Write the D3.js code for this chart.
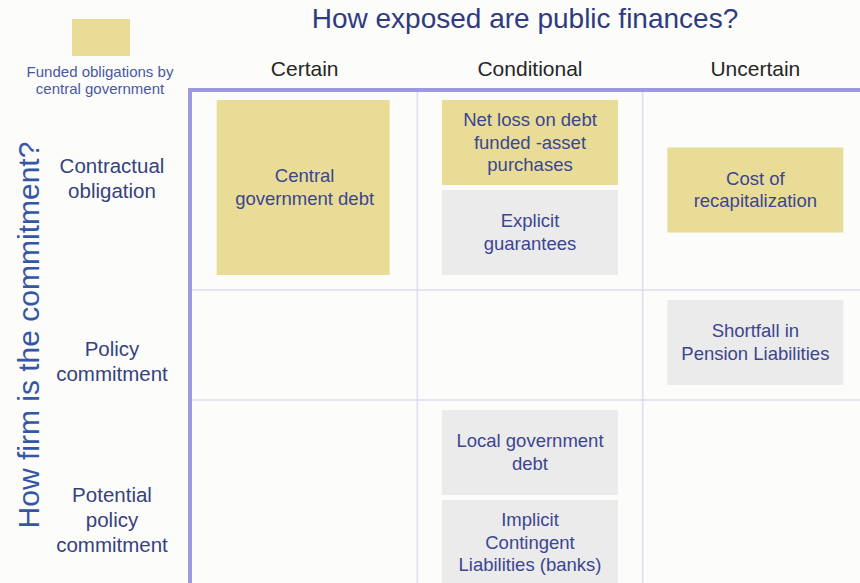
<!DOCTYPE html>
<meta charset="utf-8">
<style>
body { margin: 0; background: #fcfcfa; }
svg { display: block; font-family: "Liberation Sans", Arial, sans-serif; }
.frame { stroke: #9c99de; stroke-width: 4; fill: none; }
.grid { stroke: #dcdcef; stroke-width: 1.5; }
.box-text { fill: #3b4690; font-size: 18.5px; text-anchor: middle; }
.row-label { fill: #36427e; font-size: 20.5px; text-anchor: middle; }
.col-label { fill: #262626; font-size: 21px; text-anchor: middle; }
</style>
<body>
<div id="chart"></div>
<script src="https://d3js.org/d3.v7.min.js"></script>
<script>

var width = 860,
    height = 583;

// exposure (columns) and firmness (rows)
var columns = ["Certain", "Conditional", "Uncertain"];
var rows = ["Contractual obligation", "Policy commitment", "Potential policy commitment"];
var rowLabelLines = [["Contractual", "obligation"], ["Policy", "commitment"], ["Potential", "policy", "commitment"]];
var rowLabelShift = [-12, 16, 20]; // labels are not centred in their rows

// items in the matrix: column, row, slot in the cell stack, slots spanned, funded?
var itemNames = ["Central government debt", "Net loss on debt funded -asset purchases", "Explicit guarantees",
                 "Cost of recapitalization", "Shortfall in Pension Liabilities", "Local government debt",
                 "Implicit Contingent Liabilities (banks)"];
var itemLines = [["Central", "government debt"], ["Net loss on debt", "funded -asset", "purchases"], ["Explicit", "guarantees"],
                 ["Cost of", "recapitalization"], ["Shortfall in", "Pension Liabilities"], ["Local government", "debt"],
                 ["Implicit", "Contingent", "Liabilities (banks)"]];
var itemColumn = ["Certain", "Conditional", "Conditional", "Uncertain", "Uncertain", "Conditional", "Conditional"];
var itemRow = ["Contractual obligation", "Contractual obligation", "Contractual obligation", "Contractual obligation",
               "Policy commitment", "Potential policy commitment", "Potential policy commitment"];
var itemSlot = [0, 0, 1, null, 0, 0, 1];
var itemSpan = [2, 1, 1, 1, 1, 1, 1];
var itemFunded = [true, true, false, true, false, false, false];

var items = itemNames.map(function(n, i) {
  return { name: n, lines: itemLines[i], col: itemColumn[i], row: itemRow[i],
           slot: itemSlot[i], span: itemSpan[i], funded: itemFunded[i] };
});

var gridLeft = 190, gridTop = 90;
var slotH = 90, boxH = 85, rowPad = 10, boxW = 176;
var lineH = 22.5;

// slots needed per row = tallest stack in it
var rowSlots = rows.map(function(r) {
  return d3.max(items.filter(function(d) { return d.row == r; }), function(d) { return (d.slot || 0) + d.span; });
});
var rowStart = [gridTop];
rowSlots.forEach(function(s, i) { rowStart.push(rowStart[i] + s * slotH + 2 * rowPad); });
var y = d3.scaleOrdinal().domain(rows).range(rowStart.slice(0, rows.length));
function rowHeight(r) { return rowSlots[rows.indexOf(r)] * slotH + 2 * rowPad; }

var x = d3.scaleBand()
    .domain(columns)
    .range([192, 868]);

var fill = d3.scaleOrdinal().domain([true, false]).range(["#e9dc97", "#ebebeb"]);

var svg = d3.select("#chart").append("svg")
    .attr("width", width)
    .attr("height", height);

// grid lines
svg.selectAll(".vline")
    .data(columns.slice(1))
  .enter().append("line")
    .attr("class", "grid")
    .attr("x1", function(d) { return x(d); })
    .attr("x2", function(d) { return x(d); })
    .attr("y1", gridTop)
    .attr("y2", height);

svg.selectAll(".hline")
    .data(rows.slice(1))
  .enter().append("line")
    .attr("class", "grid")
    .attr("x1", gridLeft)
    .attr("x2", width)
    .attr("y1", function(d) { return y(d); })
    .attr("y2", function(d) { return y(d); });

// boxes
var box = svg.selectAll(".item")
    .data(items)
  .enter().append("g")
    .attr("class", "item")
    .attr("transform", function(d) {
      var bx = x(d.col) + (x.bandwidth() - boxW) / 2;
      var h = d.span * slotH - (slotH - boxH);
      var by = d.slot == null
        ? y(d.row) + (rowHeight(d.row) - h) / 2
        : y(d.row) + rowPad + d.slot * slotH;
      d.h = h;
      return "translate(" + bx + "," + by + ")";
    });

box.append("rect")
    .attr("width", function(d) { return d.span > 1 ? boxW - 3 : boxW; })
    .attr("height", function(d) { return d.h; })
    .attr("fill", function(d) { return fill(d.funded); });

box.append("text")
    .attr("class", "box-text")
    .attr("x", boxW / 2)
    .attr("y", function(d) { return d.h / 2 - (d.lines.length - 1) * lineH / 2 + 6; })
    .selectAll("tspan")
    .data(function(d) { return d.lines; })
  .enter().append("tspan")
    .attr("x", boxW / 2)
    .attr("dy", function(d, i) { return i ? lineH : 0; })
    .text(function(d) { return d; });

// frame on top and left
svg.append("path")
    .attr("class", "frame")
    .attr("d", "M" + gridLeft + "," + height + "V" + gridTop + "H" + width);

// column labels
svg.selectAll(".col-label")
    .data(columns)
  .enter().append("text")
    .attr("class", "col-label")
    .attr("x", function(d) { return x(d) + x.bandwidth() / 2; })
    .attr("y", 76)
    .text(function(d) { return d; });

// row labels
svg.selectAll(".row-label")
    .data(rows)
  .enter().append("text")
    .attr("class", "row-label")
    .attr("y", function(d, i) {
      var n = rowLabelLines[i].length;
      return y(d) + rowHeight(d) / 2 + rowLabelShift[i] - (n - 1) * 12.5 + 7;
    })
    .selectAll("tspan")
    .data(function(d, i) { return rowLabelLines[i]; })
  .enter().append("tspan")
    .attr("x", 112)
    .attr("dy", function(d, i) { return i ? 25 : 0; })
    .text(function(d) { return d; });

// titles
svg.append("text")
    .attr("x", 525)
    .attr("y", 28)
    .attr("text-anchor", "middle")
    .attr("fill", "#2f3b80")
    .attr("font-size", 28)
    .text("How exposed are public finances?");

svg.append("text")
    .attr("transform", "translate(39,335)rotate(-90)")
    .attr("text-anchor", "middle")
    .attr("fill", "#3556a4")
    .attr("font-size", 30)
    .text("How firm is the commitment?");

// legend
svg.append("rect")
    .attr("x", 72)
    .attr("y", 19)
    .attr("width", 58)
    .attr("height", 37)
    .attr("fill", fill(true));

svg.append("text")
    .attr("text-anchor", "middle")
    .attr("fill", "#4a58a3")
    .attr("font-size", 15)
    .selectAll("tspan")
    .data(["Funded obligations by", "central government"])
  .enter().append("tspan")
    .attr("x", 100)
    .attr("y", function(d, i) { return 77 + i * 17; })
    .text(function(d) { return d; });

</script>
</body>
